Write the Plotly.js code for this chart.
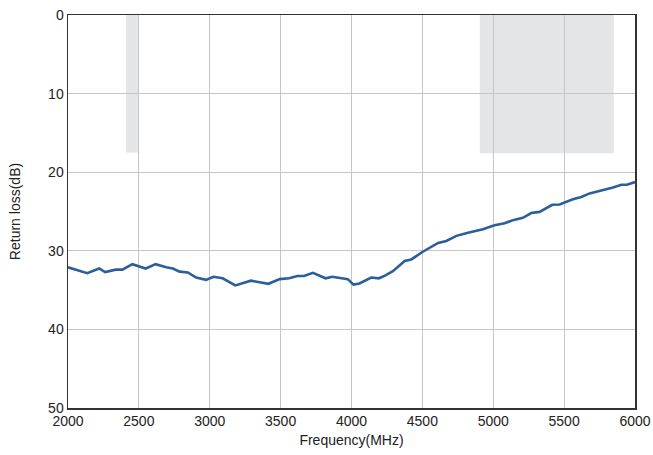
<!DOCTYPE html>
<html><head><meta charset="utf-8">
<script src="https://cdn.plot.ly/plotly-3.0.1.min.js"></script>
<style>html,body{margin:0;padding:0;background:#fff;}#chart{width:653px;height:455px;}</style>
</head><body><div id="chart"></div>
<script>
const freqMHz = [2000,2136,2220,2262,2337,2384,2454,2548,2618,2693,2740,2787,2845,2904,2974,3026,3091,3180,3290,3414,3494,3560,3618,3665,3728,3817,3864,3930,3974,4014,4056,4139,4193,4233,4292,4375,4422,4500,4552,4611,4669,4740,4822,4927,5009,5080,5139,5209,5268,5327,5416,5468,5562,5621,5680,5786,5845,5904,5944,6000];
const returnLossDb = [32.1,32.85,32.25,32.7,32.4,32.4,31.7,32.25,31.7,32.1,32.25,32.65,32.75,33.4,33.7,33.3,33.5,34.4,33.8,34.2,33.6,33.5,33.2,33.2,32.8,33.5,33.3,33.45,33.6,34.3,34.15,33.4,33.5,33.2,32.6,31.3,31.1,30.15,29.6,29.0,28.75,28.1,27.7,27.25,26.75,26.5,26.1,25.8,25.2,25.05,24.15,24.1,23.45,23.15,22.7,22.25,21.95,21.6,21.6,21.25];
const bandStart = [2410, 4905];
const bandEnd = [2500, 5850];
const bandDepth = [17.5, 17.6];
const xTicks = [2000,2500,3000,3500,4000,4500,5000,5500,6000];
const yTicks = [0,10,20,30,40,50];

const shapes = bandStart.map((s,i)=>({type:'rect',xref:'x',yref:'y',x0:s,x1:bandEnd[i],y0:0,y1:bandDepth[i],fillcolor:'#e4e5e7',line:{width:0},layer:'below'}));

const font = {family:'"Liberation Sans", Arial, sans-serif', size:14, color:'#222'};
Plotly.newPlot('chart',[{x:freqMHz,y:returnLossDb,type:'scatter',mode:'lines',line:{color:'#2b5f9c',width:2.6,shape:'linear'},hoverinfo:'skip'}],{
  width:653,height:455,
  margin:{l:68,r:18,t:15,b:47},
  paper_bgcolor:'#fff',plot_bgcolor:'rgba(0,0,0,0)',
  font:font,showlegend:false,shapes:shapes,
  xaxis:{range:[2000,6000],tickvals:xTicks,ticktext:xTicks.map(String),showgrid:true,gridcolor:'#c6c6c6',gridwidth:1.2,zeroline:false,showline:true,mirror:true,linecolor:'#333',linewidth:1.5,ticks:'',ticklen:0,tickfont:font,title:{text:'Frequency(MHz)',font:font,standoff:7}},
  yaxis:{range:[50,0],tickvals:yTicks,ticktext:yTicks.map(String),showgrid:true,gridcolor:'#c6c6c6',gridwidth:1.2,zeroline:false,showline:true,mirror:true,linecolor:'#333',linewidth:1.5,ticks:'',ticklen:0,tickfont:font,title:{text:'Return loss(dB)',font:font,standoff:24}}
},{staticPlot:true,displayModeBar:false});
</script></body></html>
